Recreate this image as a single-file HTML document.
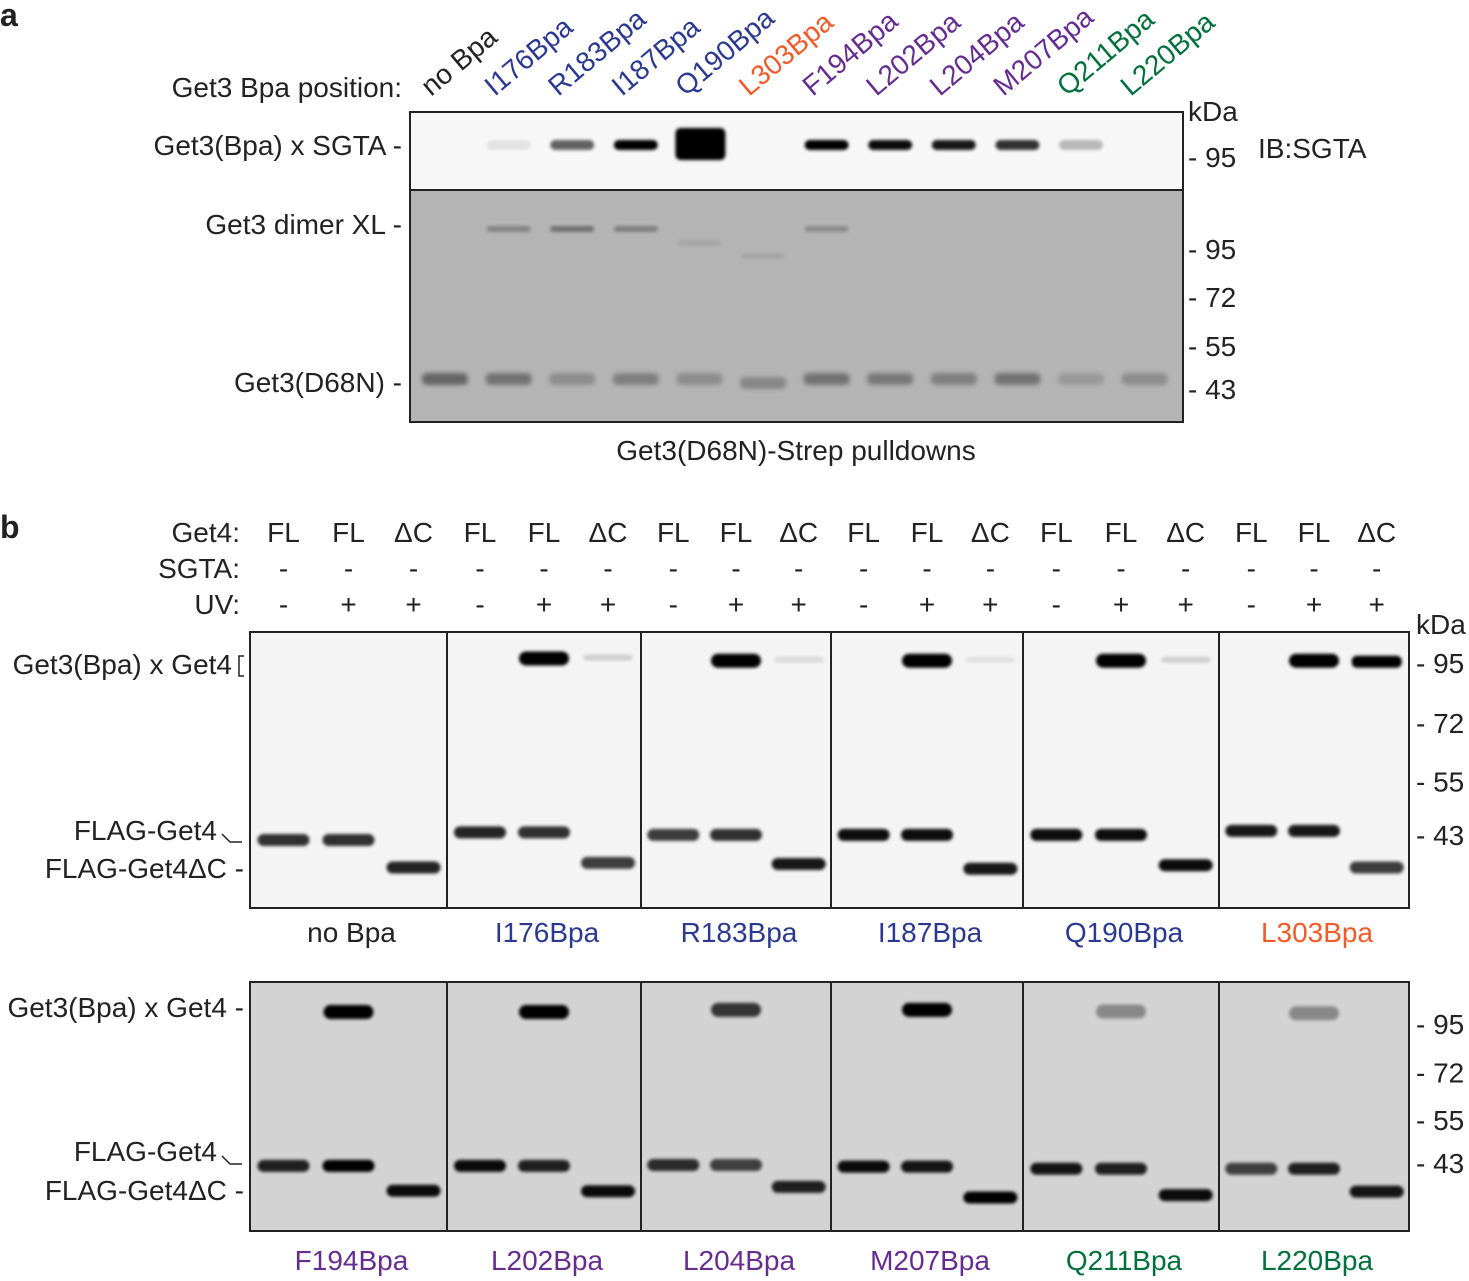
<!DOCTYPE html>
<html><head><meta charset="utf-8"><style>
body{margin:0;background:#fff}
svg text{font-family:"Liberation Sans",Arial,sans-serif}
</style></head><body>
<svg id="fig" width="1469" height="1276" viewBox="0 0 1469 1276" xmlns="http://www.w3.org/2000/svg">
<defs>
<filter id="bl" x="-20%" y="-80%" width="140%" height="260%"><feGaussianBlur stdDeviation="1.6"/></filter>
<filter id="bl2" x="-20%" y="-80%" width="140%" height="260%"><feGaussianBlur stdDeviation="2.5"/></filter>
</defs>
<g font-size="28" fill="#222">
<text x="0" y="26" font-weight="bold" font-size="32">a</text>
<text x="0" y="538" font-weight="bold" font-size="32">b</text>
<text x="402" y="97" text-anchor="end">Get3 Bpa position:</text>
<text x="402" y="155" text-anchor="end">Get3(Bpa) x SGTA -</text>
<text x="402" y="234" text-anchor="end">Get3 dimer XL -</text>
<text x="402" y="392" text-anchor="end">Get3(D68N) -</text>
<text x="796" y="460" text-anchor="middle">Get3(D68N)-Strep pulldowns</text>
<text x="1188" y="121">kDa</text>
<text x="1258" y="158">IB:SGTA</text>
</g>
<rect x="410" y="112" width="773" height="78" fill="#f7f7f7"/>
<rect x="410" y="190" width="773" height="232" fill="#b4b4b4"/>
<g id="bandsA"></g>
<rect x="410" y="112" width="773" height="310" fill="none" stroke="#222" stroke-width="2"/>
<line x1="410" y1="190" x2="1183" y2="190" stroke="#222" stroke-width="2"/>
<g id="labelsA"></g>
<g id="markA" font-size="28" fill="#222"></g>
<g id="panelB"></g>
</svg>
<script>
const lanesA=["no Bpa","I176Bpa","R183Bpa","I187Bpa","Q190Bpa","L303Bpa","F194Bpa","L202Bpa","L204Bpa","M207Bpa","Q211Bpa","L220Bpa"];
const laneColorA=["#222","#2b3990","#2b3990","#2b3990","#2b3990","#f15a29","#662d91","#662d91","#662d91","#662d91","#00703c","#00703c"];
const sgtaXL=[0,0.08,0.6,1,1,0,1,0.95,0.9,0.8,0.25,0];
const dimerXL=[0,0.35,0.5,0.4,0.1,0.1,0.3,0,0,0,0,0];
const d68n=[0.6,0.5,0.3,0.4,0.3,0.35,0.5,0.45,0.4,0.5,0.2,0.3];
const kdaTicksA=["95","95","72","55","43"];
const kdaYA=[158,250,298,347,390];
const NS="http://www.w3.org/2000/svg";
function mk(t,a,p){const e=document.createElementNS(NS,t);for(const k in a)e.setAttribute(k,a[k]);p.appendChild(e);return e;}
const laneXA=i=>445+i*63.6;
const gA=document.getElementById('bandsA');
sgtaXL.forEach((v,i)=>{if(v<=0)return;const big=i===4;const r=mk('rect',{x:laneXA(i)-(big?24:22),y:big?128:140,width:big?50:44,height:big?32:10,rx:5,fill:'#000',opacity:v,filter:'url(#bl)'},gA);

});
dimerXL.forEach((v,i)=>{if(v<=0)return;const y=i===5?253:(i===4?240:226);const r=mk('rect',{x:laneXA(i)-22,y:y,width:44,height:6,rx:3,fill:'#333',opacity:v,filter:'url(#bl)'},gA);

});
d68n.forEach((v,i)=>{const r=mk('rect',{x:laneXA(i)-23,y:373+(i===5?4:0),width:46,height:12,rx:5,fill:'#333',opacity:v,filter:'url(#bl2)'},gA);

});
const lA=document.getElementById('labelsA');
lanesA.forEach((s,i)=>{const t=mk('text',{x:0,y:0,'font-size':28,fill:laneColorA[i],transform:`translate(${laneXA(i)-14},97) rotate(-40)`},lA);t.textContent=s;

});
const mA=document.getElementById('markA');
kdaTicksA.forEach((s,i)=>{const t=mk('text',{x:1188,y:kdaYA[i]+9},mA);t.textContent="- "+s;

});

const panelsTop=["no Bpa","I176Bpa","R183Bpa","I187Bpa","Q190Bpa","L303Bpa"];
const colorsTop=["#222","#2b3990","#2b3990","#2b3990","#2b3990","#f15a29"];
const panelsBot=["F194Bpa","L202Bpa","L204Bpa","M207Bpa","Q211Bpa","L220Bpa"];
const colorsBot=["#662d91","#662d91","#662d91","#662d91","#00703c","#00703c"];
const xlTopFL=[0,1,1,1,1,1];
const xlTopDC=[0,0.15,0.1,0.08,0.15,1];
const flTop=[[0.8,0.8],[0.85,0.8],[0.75,0.8],[0.95,0.95],[0.95,0.95],[0.9,0.9]];
const dcTop=[0.85,0.75,0.9,0.9,0.95,0.75];
const flKdaTop=[42,43.5,43,43,43,43.8];
const dcKdaTop=[37,37.8,37.6,36.8,37.4,37];
const xlTopKda=[0,97,96,96,96,96];
const xlBotFL=[1,1,0.75,1,0.35,0.35];
const flBot=[[0.85,1],[0.95,0.85],[0.8,0.7],[0.95,0.9],[0.9,0.85],[0.7,0.85]];
const dcBot=[0.95,0.95,0.85,1,0.95,0.9];
const flKdaBot=[42.3,42.3,42.5,42.1,41.6,41.6];
const dcKdaBot=[36.7,36.6,37.5,35.3,35.8,36.5];
const xlBotKda=[101.7,101.7,103,103,102,101];
const kdaTicksB=["95","72","55","43"];
const kdaValsB=[95,72,55,43];
const boundsX=[250,447,641,831,1023,1219,1409];
const get4=["FL","FL","ΔC"], uv=["-","+","+"];
const yTop=k=>663+(Math.log(95)-Math.log(k))/0.793*172;
const yBot=k=>1024+(Math.log(95)-Math.log(k))/0.793*139;
const gB=document.getElementById('panelB');
function txt(x,y,s,opt,name){const t=mk('text',Object.assign({x:x,y:y,'font-size':28,fill:'#222'},opt||{}),gB);t.textContent=s;

return t;}
txt(240,542,"Get4:",{'text-anchor':'end'},'row-label-get4');
txt(240,578,"SGTA:",{'text-anchor':'end'},'row-label-sgta');
txt(240,614,"UV:",{'text-anchor':'end'},'row-label-uv');
function laneX(p,l){const w=boundsX[p+1]-boundsX[p];return boundsX[p]+w*(0.17+l*0.33);}
for(let p=0;p<6;p++)for(let l=0;l<3;l++){const x=laneX(p,l);
txt(x,542,get4[l],{'text-anchor':'middle'},'get4-condition');txt(x,578,"-",{'text-anchor':'middle'},'sgta-condition');txt(x,614,uv[l],{'text-anchor':'middle'},'uv-condition');}
function row(y0,h,bg,yf,flK,fl,dcK,dc,xlK,xlFL,xlDC,names,cols,capY){
 const r=mk('rect',{x:250,y:y0,width:1159,height:h,fill:bg},gB);
 
 
 for(let p=0;p<6;p++){
  [0,1].forEach(l=>{const b=mk('rect',{x:laneX(p,l)-26,y:yf(flK[p])-6,width:52,height:12,rx:6,fill:'#000',opacity:fl[p][l],filter:'url(#bl)'},gB);
  
  });
  const d=mk('rect',{x:laneX(p,2)-27,y:yf(dcK[p])-6,width:54,height:12,rx:6,fill:'#000',opacity:dc[p],filter:'url(#bl)'},gB);
  
  
  if(xlFL[p]>0){const x=mk('rect',{x:laneX(p,1)-25,y:yf(xlK[p])-7,width:50,height:14,rx:7,fill:'#000',opacity:xlFL[p],filter:'url(#bl)'},gB);
  
  }
  if(xlDC&&xlDC[p]>0){const x=mk('rect',{x:laneX(p,2)-25,y:yf(xlK[p])-(p===5?5:4),width:50,height:p===5?12:6,rx:5,fill:'#000',opacity:xlDC[p],filter:'url(#bl)'},gB);
  
  }
  txt((boundsX[p]+boundsX[p+1])/2+3,capY,names[p],{'text-anchor':'middle',fill:cols[p]},'panel-caption');
 }
 mk('rect',{x:250,y:y0,width:1159,height:h,fill:'none',stroke:'#222','stroke-width':2},gB);
 for(let p=1;p<6;p++)mk('line',{x1:boundsX[p],y1:y0,x2:boundsX[p],y2:y0+h,stroke:'#222','stroke-width':2},gB);
 kdaValsB.forEach((k,i)=>txt(1416,yf(k)+10,"- "+kdaTicksB[i],{},'kda-tick-b'));
}
row(632,276,'#f4f4f4',yTop,flKdaTop,flTop,dcKdaTop,dcTop,xlTopKda,xlTopFL,xlTopDC,panelsTop,colorsTop,942);
row(982,249,'#d3d3d3',yBot,flKdaBot,flBot,dcKdaBot,dcBot,xlBotKda,xlBotFL,null,panelsBot,colorsBot,1270);
txt(1416,634,"kDa",{},'kda-label-b');
txt(232,674,"Get3(Bpa) x Get4",{'text-anchor':'end'},'label-xl-get4-top');
mk('path',{d:'M244 656 h-5 v20 h5',fill:'none',stroke:'#222','stroke-width':1.5},gB);
txt(217,840,"FLAG-Get4",{'text-anchor':'end'},'label-flag-get4-top');
mk('path',{d:'M222 834 l8 8 h12',fill:'none',stroke:'#222','stroke-width':1.5},gB);
txt(244,878,"FLAG-Get4ΔC -",{'text-anchor':'end'},'label-flag-get4dc-top');
txt(244,1017,"Get3(Bpa) x Get4 -",{'text-anchor':'end'},'label-xl-get4-bot');
txt(217,1161,"FLAG-Get4",{'text-anchor':'end'},'label-flag-get4-bot');
mk('path',{d:'M222 1156 l8 8 h12',fill:'none',stroke:'#222','stroke-width':1.5},gB);
txt(244,1200,"FLAG-Get4ΔC -",{'text-anchor':'end'},'label-flag-get4dc-bot');
</script>
</body></html>
